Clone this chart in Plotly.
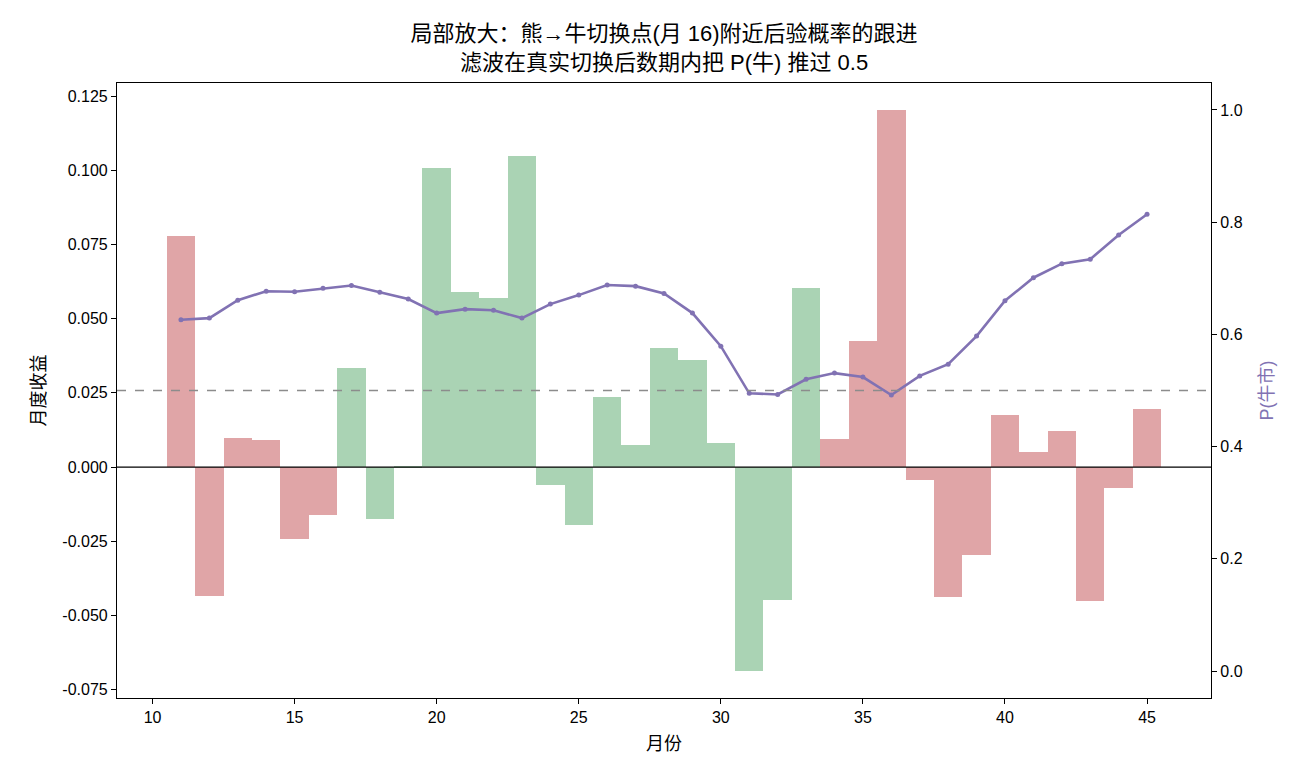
import plotly.graph_objects as go

months = list(range(11, 46))
returns = [0.0778, -0.0434, 0.0098, 0.0091, -0.0243, -0.0162, 0.0334, -0.0175, 0.0004,
           0.1007, 0.0590, 0.0569, 0.1048, -0.0060, -0.0195, 0.0236, 0.0074, 0.0401,
           0.0360, 0.0081, -0.0686, -0.0448, 0.0603, 0.0094, 0.0425, 0.1203, -0.0043,
           -0.0437, -0.0295, 0.0175, 0.0051, 0.0121, -0.0450, -0.0070, 0.0195]
regime = ["熊"] * 6 + ["牛"] * 17 + ["熊"] * 12
p_bull = [0.626, 0.629, 0.661, 0.677, 0.676, 0.682, 0.687, 0.675, 0.663, 0.638,
          0.645, 0.643, 0.629, 0.654, 0.670, 0.688, 0.686, 0.673, 0.638, 0.579,
          0.495, 0.493, 0.520, 0.531, 0.524, 0.492, 0.526, 0.547, 0.597, 0.660,
          0.701, 0.726, 0.734, 0.777, 0.814]
left_ticks = [-0.075, -0.05, -0.025, 0.0, 0.025, 0.05, 0.075, 0.1, 0.125]
left_tick_text = ["-0.075", "-0.050", "-0.025", "0.000", "0.025", "0.050", "0.075", "0.100", "0.125"]
right_ticks = [0.0, 0.2, 0.4, 0.6, 0.8, 1.0]
threshold = 0.5

RED = "#e0a5a7"
GREEN = "#aad3b4"
PURPLE = "#8172b3"
FONT = "Liberation Sans, Arial, Noto Sans CJK SC, sans-serif"

colors = [RED if r == "熊" else GREEN for r in regime]

fig = go.Figure()
fig.add_trace(go.Bar(x=months, y=returns, marker=dict(color=colors, line=dict(width=0)),
                     width=1.0, yaxis="y", showlegend=False))
fig.add_trace(go.Scatter(x=months, y=p_bull, yaxis="y2", mode="lines+markers",
                         line=dict(color=PURPLE, width=2.6),
                         marker=dict(color=PURPLE, size=5), showlegend=False))

fig.add_shape(type="line", xref="paper", x0=0, x1=1, yref="y2", y0=threshold, y1=threshold,
              line=dict(color="#8c8c8c", width=1.3, dash="dash"), layer="above")
fig.add_shape(type="line", xref="paper", x0=0, x1=1, yref="y", y0=0, y1=0,
              line=dict(color="black", width=1.1), layer="above")

fig.update_layout(
    width=1300, height=780,
    margin=dict(l=117, r=89, t=83, b=82),
    paper_bgcolor="white", plot_bgcolor="white",
    font=dict(family=FONT, size=16, color="black"),
    bargap=0,
    title=dict(text="局部放大：熊→牛切换点(月 16)附近后验概率的跟进<br>滤波在真实切换后数期内把 P(牛) 推过 0.5",
               x=0.5, xref="paper", xanchor="center", yref="container", y=1 - 41 / 780, yanchor="top",
               font=dict(size=22, family=FONT)),
    xaxis=dict(range=[8.75, 47.25], tickvals=[10, 15, 20, 25, 30, 35, 40, 45],
               showgrid=False, zeroline=False, showline=True, linecolor="black", linewidth=1.2,
               mirror=True, ticks="outside", ticklen=5, tickcolor="black",
               title=dict(text="月份", font=dict(size=18), standoff=12)),
    yaxis=dict(range=[-0.0778, 0.1294], tickvals=left_ticks, ticktext=left_tick_text,
               showgrid=False, zeroline=False, showline=True, linecolor="black", linewidth=1.2,
               ticks="outside", ticklen=5, tickcolor="black",
               title=dict(text="月度收益", font=dict(size=18), standoff=12)),
    yaxis2=dict(range=[-0.048, 1.048], overlaying="y", side="right", tickvals=right_ticks,
                tickformat=".1f", showgrid=False, zeroline=False, showline=True,
                linecolor="black", linewidth=1.2, ticks="outside", ticklen=5, tickcolor="black",
                title=dict(text="P(牛市)", font=dict(size=18, color=PURPLE), standoff=18)),
)

fig.write_html("out.html")
